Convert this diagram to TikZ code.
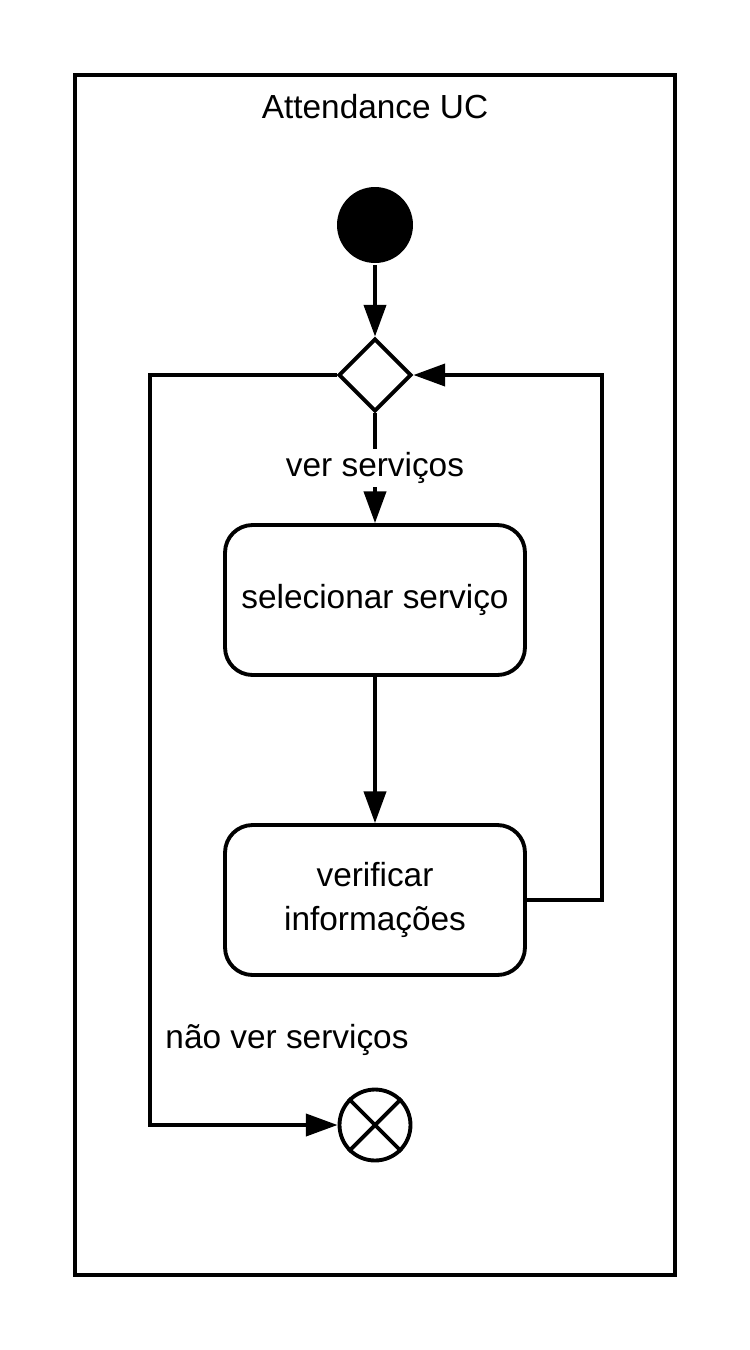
\documentclass[tikz,border=0pt]{standalone}
\usepackage{fontspec}
\setmainfont{Liberation Sans}
\usetikzlibrary{arrows.meta}
\usetikzlibrary{shapes.geometric}
\usetikzlibrary{positioning}

\begin{document}
\begin{tikzpicture}[
                x={(0.02cm,0cm)}, y={(0cm,-0.02cm)},
                line width=2.2pt,
                flow/.style={-{Triangle[length=18pt, width=12.5pt]}},
                activity/.style={draw, rounded corners=0.55cm, minimum width=6cm,
                    minimum height=3cm, align=center, font=\fontsize{19}{25}\selectfont},
                lbl/.style={font=\fontsize{19}{23}\selectfont, fill=white, inner sep=2pt} ]

            \useasboundingbox (0,0) rectangle (750,1350);
            \draw (75,75) rectangle (675,1275);
            \node[font=\fontsize{19}{23}\selectfont] (title) at (375,107) {Attendance UC};

            \node[circle, fill=black, minimum size=1.52cm, inner sep=0pt] (start) at (375,225) {};
            \node[diamond, draw, minimum size=1.46cm, inner sep=0pt] (choice) at (375,375) {};
            \node[activity] (select) at (375,600) {selecionar serviço};
            \node[activity] (verify) at (375,900) {verificar\\informações};
            \node[circle, draw, minimum size=1.42cm, inner sep=0pt] (end) at (375,1125) {};
            \draw (end.north west) -- (end.south east);
            \draw (end.north east) -- (end.south west);

            \coordinate (loopR) at (602,375);
            \coordinate (loopL) at (150,375);

            \draw[flow] (start) -- (choice);
            \draw[flow] (choice) -- node[lbl] {ver serviços} (select);
            \draw[flow] (select) -- (verify);
            \draw[flow] (verify.east) -| (loopR) -- (choice.east);
            \draw[flow] (choice.west) -- (loopL) |- (end.west);

            \node[lbl] (exitlabel) at (287,1040) {não ver serviços};

        \end{tikzpicture}
\end{document}
